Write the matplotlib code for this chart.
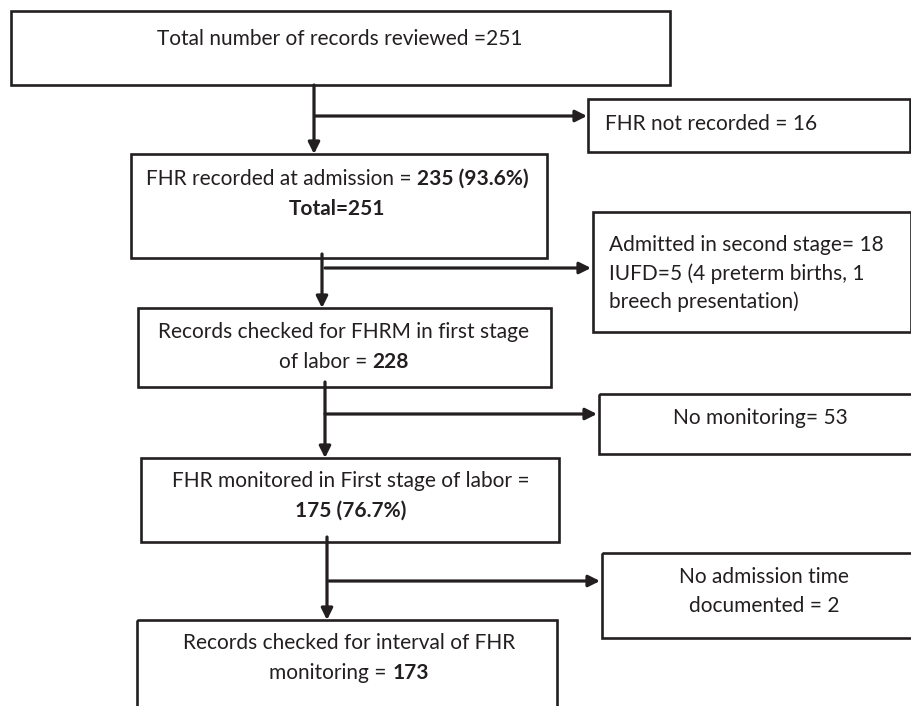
import matplotlib
matplotlib.use('Agg')
import matplotlib.pyplot as plt
from matplotlib.patches import Rectangle

plt.rcParams['font.family'] = ['Lato', 'DejaVu Sans']

# counts shown in the flow chart
total_reviewed = 251
not_recorded = 16
recorded_admission = 235
recorded_pct = 93.6
second_stage = 18
iufd = 5
iufd_preterm = 4
iufd_breech = 1
checked_first_stage = 228
no_monitoring = 53
monitored_first = 175
monitored_pct = 76.7
no_admission_time = 2
checked_interval = 173

# text of each box: list of lines, each line a list of (text, bold) parts
main_texts = [
    [[(f'Total number of records reviewed ={total_reviewed}', False)]],
    [[('FHR recorded at admission = ', False), (f'{recorded_admission} ({recorded_pct}%)', True)],
     [(f'Total={total_reviewed}', True)]],
    [[('Records checked for FHRM in first stage', False)],
     [('of labor = ', False), (f'{checked_first_stage}', True)]],
    [[('FHR monitored in First stage of labor =', False)],
     [(f'{monitored_first} ({monitored_pct}%)', True)]],
    [[('Records checked for interval of FHR', False)],
     [('monitoring = ', False), (f'{checked_interval}', True)]],
]
side_texts = [
    [[(f'FHR not recorded = {not_recorded}', False)]],
    [[(f'Admitted in second stage= {second_stage}', False)],
     [(f'IUFD={iufd} ({iufd_preterm} preterm births, {iufd_breech}', False)],
     [('breech presentation)', False)]],
    [[(f'No monitoring= {no_monitoring}', False)]],
    [[('No admission time', False)],
     [(f'documented = {no_admission_time}', False)]],
]

INK = '#231f20'
FS = 15

fig = plt.figure(figsize=(9.12, 7.06), dpi=100)
ax = fig.add_axes([0, 0, 1, 1])
ax.set_xlim(0, 912)
ax.set_ylim(706, 0)
ax.axis('off')
renderer = fig.canvas.get_renderer()

# box outlines (x0, y0, x1, y1) in pixel units
main_boxes = [(11, 11, 670, 85), (131, 154, 547, 258), (138, 308, 551, 387),
              (141, 458, 559, 542), (137, 620, 557, 730)]
side_boxes = [(588, 99, 910, 152), (593, 212, 911, 332),
              (599, 394, 922, 454), (602, 553, 926, 638)]

# text anchors: x, first line y, line step, alignment
main_anchor = [(340, 39, 30, 'center'), (337, 179, 30, 'center'), (344, 332, 30, 'center'),
               (351, 481, 30, 'center'), (349, 643, 30, 'center')]
side_anchor = [(605, 124, 28, 'left'), (609, 245, 28.5, 'left'),
               (760, 418, 28, 'center'), (764, 577, 29, 'center')]


def draw_line(x, y, parts, ha):
    arts, widths = [], []
    for s, bold in parts:
        t = ax.text(0, y, s, fontsize=FS, color=INK, va='center', ha='left',
                    fontweight='bold' if bold else 'normal')
        arts.append(t)
        widths.append(t.get_window_extent(renderer).width)
    start = x - sum(widths) / 2 if ha == 'center' else x
    for t, w in zip(arts, widths):
        t.set_x(start)
        start += w


for boxes, texts, anchors in [(main_boxes, main_texts, main_anchor),
                              (side_boxes, side_texts, side_anchor)]:
    for (x0, y0, x1, y1), lines, (tx, ty, step, ha) in zip(boxes, texts, anchors):
        ax.add_patch(Rectangle((x0, y0), x1 - x0, y1 - y0, fill=False,
                               ec=INK, lw=1.9, clip_on=False))
        for i, parts in enumerate(lines):
            draw_line(tx, ty + i * step, parts, ha)

# connectors: vertical trunk (x, y_start, y_end) and side branch (y, x_start, x_end)
trunks = [(314, 85, 154), (322, 254, 308), (325, 382, 458), (327, 537, 620)]
branches = [(116, 315, 587), (268, 325, 591), (414, 325, 597), (581, 329, 600)]

arrow = dict(arrowstyle='-|>', mutation_scale=17, lw=2.3, color=INK,
             shrinkA=0, shrinkB=0)
for x, ys, ye in trunks:
    ax.annotate('', xy=(x, ye), xytext=(x, ys), arrowprops=arrow)
for y, xs, xe in branches:
    ax.annotate('', xy=(xe, y), xytext=(xs, y), arrowprops=arrow)

fig.savefig('out.png', dpi=100)
